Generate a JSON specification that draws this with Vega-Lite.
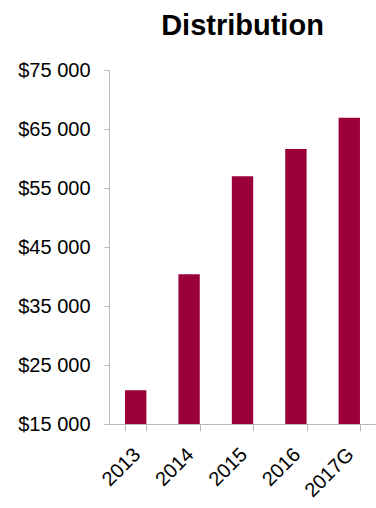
{
  "$schema": "https://vega.github.io/schema/vega-lite/v6.json",
  "autosize": {"type": "none"},
  "padding": {"left": 109, "top": 70, "right": 0, "bottom": 84},
  "width": 267,
  "height": 354,
  "background": "white",
  "title": {"text": "Distribution", "fontSize": 29, "fontWeight": "bold", "font": "Liberation Sans", "color": "black", "anchor": "middle", "offset": 19},
  "data": {"values": [
    {"year": "2013", "value": 20700},
    {"year": "2014", "value": 40400},
    {"year": "2015", "value": 57000},
    {"year": "2016", "value": 61600},
    {"year": "2017G", "value": 66900}
  ]},
  "mark": {"type": "bar", "color": "#9B003A", "clip": true},
  "encoding": {
    "x": {"field": "year", "type": "nominal", "sort": null,
      "scale": {"paddingInner": 0.6, "paddingOuter": 0.3},
      "axis": {"title": null, "labelAngle": -45, "labelFont": "Liberation Sans", "labelFontSize": 20, "labelColor": "black",
        "domainColor": "#b8b8b8", "tickColor": "#b8b8b8", "tickSize": 7, "tickBand": "extent", "labelPadding": 13, "labelOffset": -6}},
    "y": {"field": "value", "type": "quantitative",
      "scale": {"domain": [15000, 75000], "nice": false, "zero": false},
      "axis": {"title": null, "values": [15000, 25000, 35000, 45000, 55000, 65000, 75000], "grid": false,
        "labelExpr": "'$' + replace(format(datum.value, ','), ',', ' ')",
        "labelFont": "Liberation Sans", "labelFontSize": 20, "labelColor": "black", "labelPadding": 14,
        "domainColor": "#b8b8b8", "tickColor": "#b8b8b8", "tickSize": 5}}
  },
  "config": {"view": {"stroke": null}}
}
